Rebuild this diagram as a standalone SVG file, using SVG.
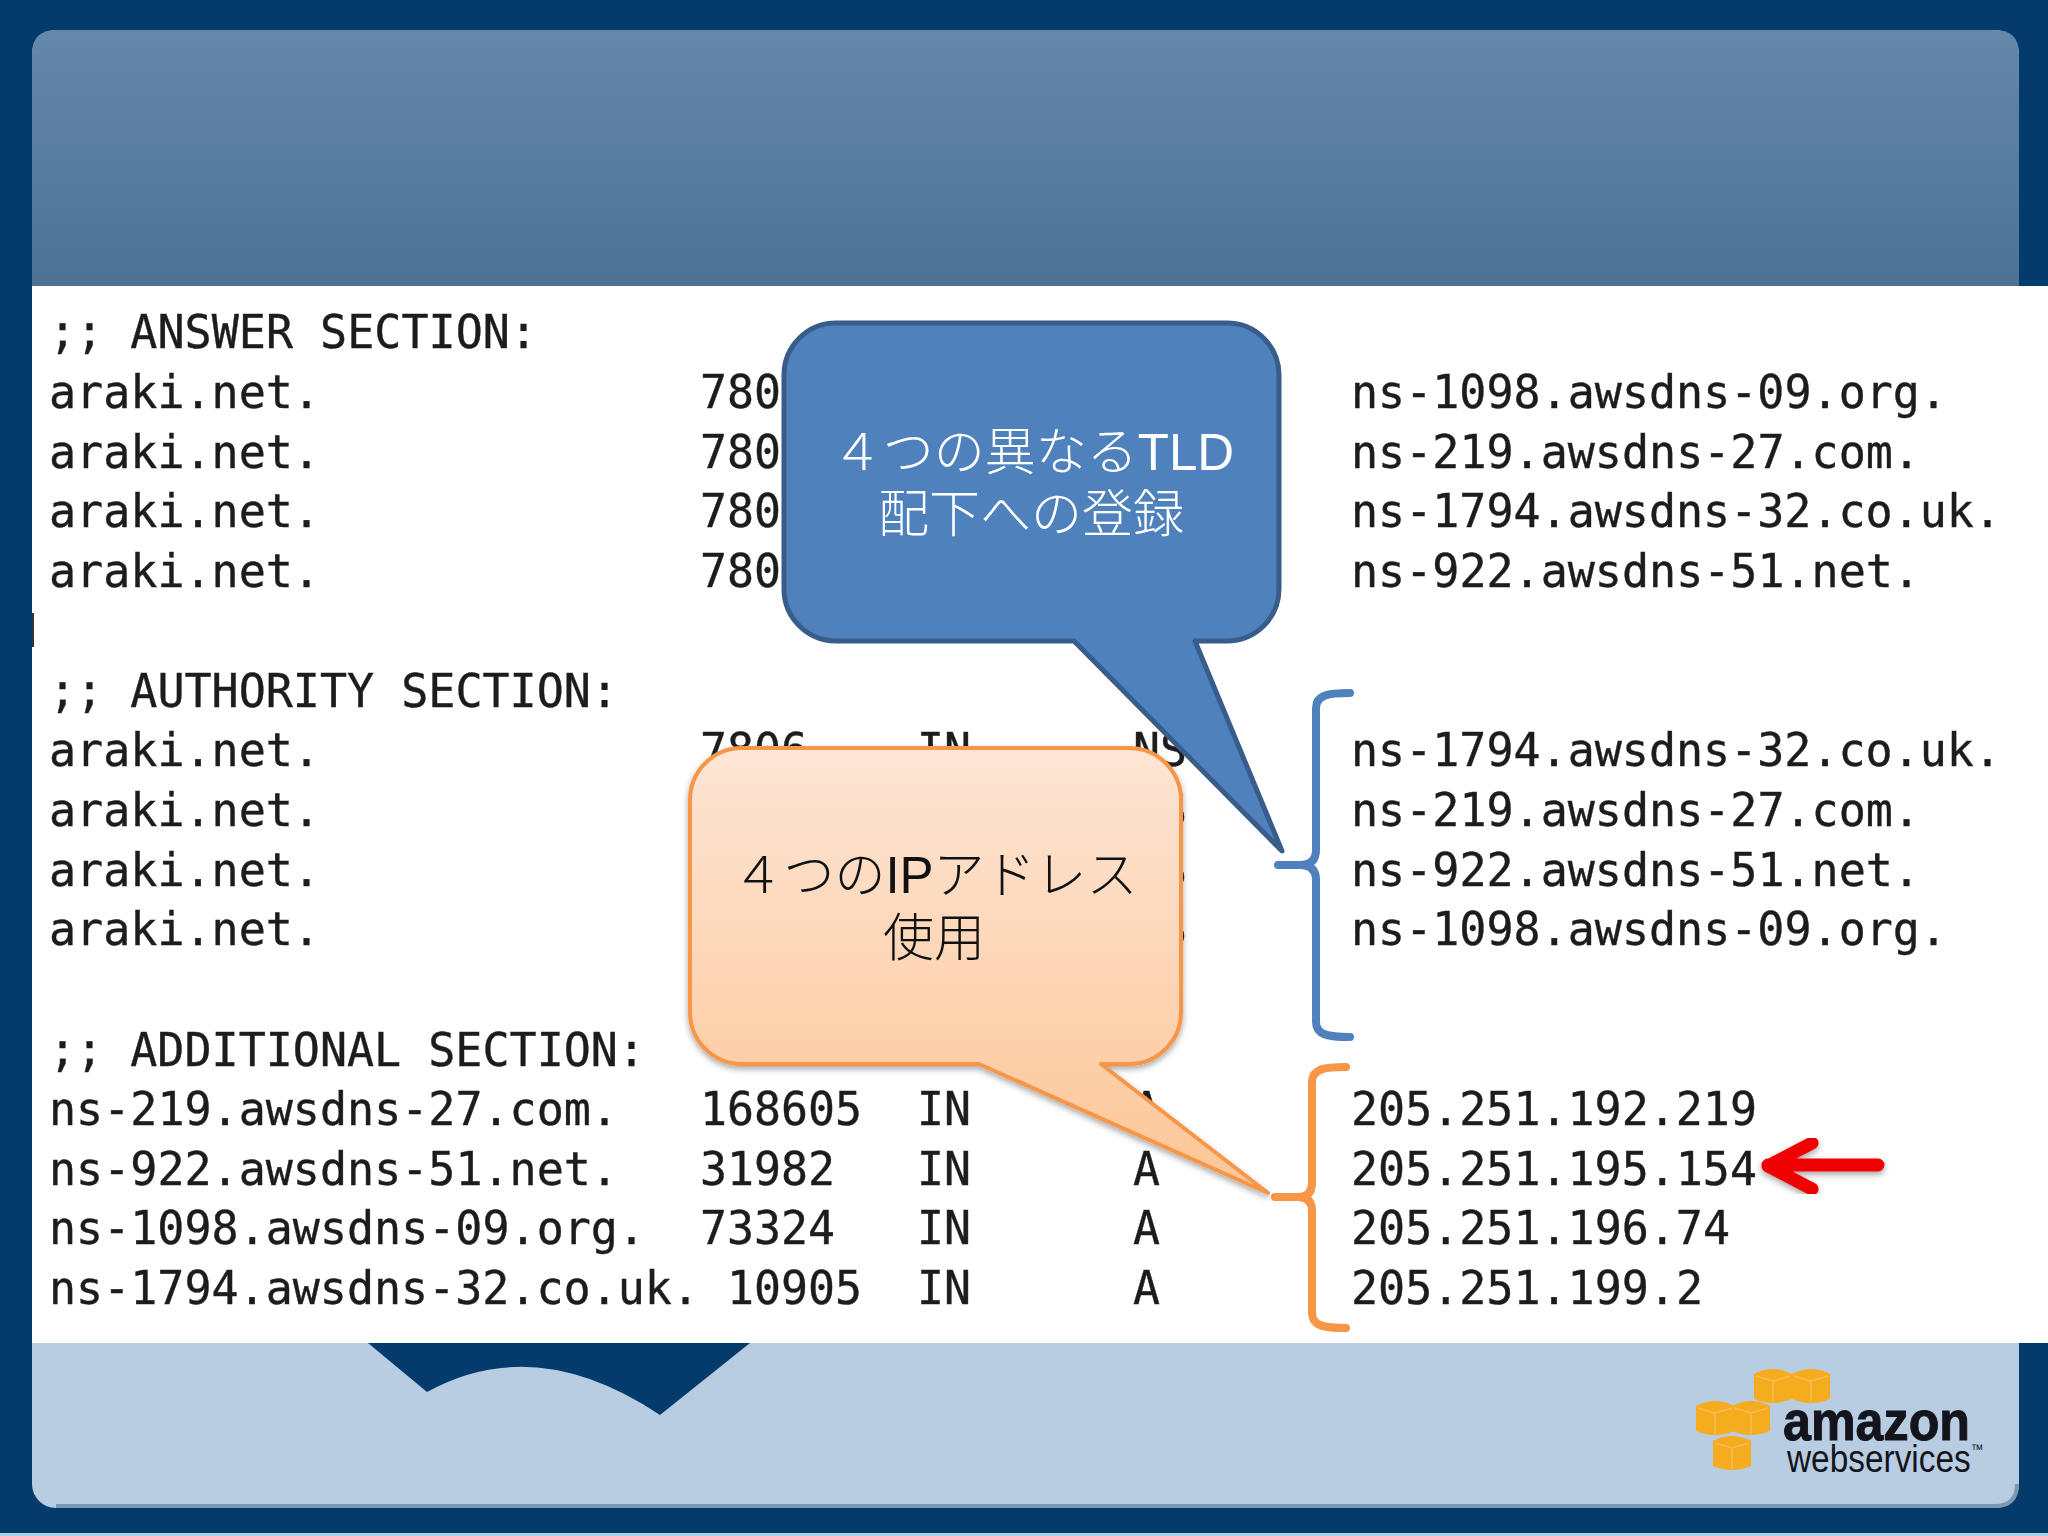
<svg xmlns="http://www.w3.org/2000/svg" width="2048" height="1536" viewBox="0 0 2048 1536">
<style>
.m{font-family:"DejaVu Sans Mono","Liberation Mono",monospace;font-size:47px;fill:#1c1c1c;stroke:#1c1c1c;stroke-width:.4}
.c{font-family:"Liberation Sans","Noto Sans CJK JP",sans-serif;font-size:51px;text-anchor:middle;font-weight:300}
.b{fill:none;stroke-width:8;stroke-linecap:round;stroke-linejoin:round}
</style>
<defs>
<linearGradient id="top" x1="0" y1="0" x2="0" y2="1"><stop offset="0" stop-color="#6688a8"/><stop offset="1" stop-color="#4c7296"/></linearGradient>
<linearGradient id="org" x1="0" y1="0" x2="0" y2="1"><stop offset="0" stop-color="#fde5d5"/><stop offset="1" stop-color="#fcc696"/></linearGradient>
<filter id="sh" x="-10%" y="-10%" width="120%" height="120%"><feDropShadow dx="0" dy="3" stdDeviation="3" flood-color="#000" flood-opacity=".35"/></filter>
<filter id="soft" x="0" y="0" width="100%" height="100%"><feGaussianBlur stdDeviation=".6"/></filter>
<g id="cube"><path d="M0 5Q19 -5 38 5V30Q19 38 0 30Z" fill="#f6ac1f"/><path d="M2 7L19 12L36 7M19 12V33" fill="none" stroke="#f9bd55" stroke-width="1.5"/></g>
</defs>
<rect id="page" width="2048" height="1536" fill="#033b6c"/>
<rect x="0" y="1533" width="2048" height="3" fill="#a9d3e4"/>
<g id="panel">
<rect x="32" y="30" width="1987" height="1478" rx="24" fill="#b8cde2"/>
<path d="M56 1506H1995Q2017 1506 2017 1484" fill="none" stroke="#7c98b2" stroke-width="4"/>
<path d="M32 286V54Q32 30 56 30H1995Q2019 30 2019 54V286Z" fill="url(#top)"/>
<path d="M368 1343H750L660 1415Q535 1332 427 1392Z" fill="#033b6c"/>
</g>
<rect x="32" y="286" width="2016" height="1057" fill="#fff"/>
<rect x="32" y="613" width="2" height="34" fill="#333"/>
<g id="listing" filter="url(#soft)">
<text class="m" x="49" y="348" textLength="488" lengthAdjust="spacingAndGlyphs">;; ANSWER SECTION:</text>
<text class="m" x="49" y="408" textLength="271" lengthAdjust="spacingAndGlyphs">araki.net.</text>
<text class="m" x="700" y="408" textLength="81" lengthAdjust="spacingAndGlyphs">780</text>
<text class="m" x="1351" y="408" textLength="596" lengthAdjust="spacingAndGlyphs">ns-1098.awsdns-09.org.</text>
<text class="m" x="49" y="468" textLength="271" lengthAdjust="spacingAndGlyphs">araki.net.</text>
<text class="m" x="700" y="468" textLength="81" lengthAdjust="spacingAndGlyphs">780</text>
<text class="m" x="1351" y="468" textLength="569" lengthAdjust="spacingAndGlyphs">ns-219.awsdns-27.com.</text>
<text class="m" x="49" y="527" textLength="271" lengthAdjust="spacingAndGlyphs">araki.net.</text>
<text class="m" x="700" y="527" textLength="81" lengthAdjust="spacingAndGlyphs">780</text>
<text class="m" x="1351" y="527" textLength="650" lengthAdjust="spacingAndGlyphs">ns-1794.awsdns-32.co.uk.</text>
<text class="m" x="49" y="587" textLength="271" lengthAdjust="spacingAndGlyphs">araki.net.</text>
<text class="m" x="700" y="587" textLength="81" lengthAdjust="spacingAndGlyphs">780</text>
<text class="m" x="1351" y="587" textLength="569" lengthAdjust="spacingAndGlyphs">ns-922.awsdns-51.net.</text>
<text class="m" x="49" y="707" textLength="569" lengthAdjust="spacingAndGlyphs">;; AUTHORITY SECTION:</text>
<text class="m" x="49" y="766" textLength="271" lengthAdjust="spacingAndGlyphs">araki.net.</text>
<text class="m" x="700" y="766" textLength="108" lengthAdjust="spacingAndGlyphs">7806</text>
<text class="m" x="917" y="766" textLength="54" lengthAdjust="spacingAndGlyphs">IN</text>
<text class="m" x="1133" y="766" textLength="54" lengthAdjust="spacingAndGlyphs">NS</text>
<text class="m" x="1351" y="766" textLength="650" lengthAdjust="spacingAndGlyphs">ns-1794.awsdns-32.co.uk.</text>
<text class="m" x="49" y="826" textLength="271" lengthAdjust="spacingAndGlyphs">araki.net.</text>
<text class="m" x="1160" y="826" textLength="27" lengthAdjust="spacingAndGlyphs">S</text>
<text class="m" x="1351" y="826" textLength="569" lengthAdjust="spacingAndGlyphs">ns-219.awsdns-27.com.</text>
<text class="m" x="49" y="886" textLength="271" lengthAdjust="spacingAndGlyphs">araki.net.</text>
<text class="m" x="1160" y="886" textLength="27" lengthAdjust="spacingAndGlyphs">S</text>
<text class="m" x="1351" y="886" textLength="569" lengthAdjust="spacingAndGlyphs">ns-922.awsdns-51.net.</text>
<text class="m" x="49" y="945" textLength="271" lengthAdjust="spacingAndGlyphs">araki.net.</text>
<text class="m" x="1160" y="945" textLength="27" lengthAdjust="spacingAndGlyphs">S</text>
<text class="m" x="1351" y="945" textLength="596" lengthAdjust="spacingAndGlyphs">ns-1098.awsdns-09.org.</text>
<text class="m" x="49" y="1066" textLength="596" lengthAdjust="spacingAndGlyphs">;; ADDITIONAL SECTION:</text>
<text class="m" x="49" y="1125" textLength="569" lengthAdjust="spacingAndGlyphs">ns-219.awsdns-27.com.</text>
<text class="m" x="700" y="1125" textLength="162" lengthAdjust="spacingAndGlyphs">168605</text>
<text class="m" x="917" y="1125" textLength="54" lengthAdjust="spacingAndGlyphs">IN</text>
<text class="m" x="1133" y="1125" textLength="27" lengthAdjust="spacingAndGlyphs">A</text>
<text class="m" x="1351" y="1125" textLength="406" lengthAdjust="spacingAndGlyphs">205.251.192.219</text>
<text class="m" x="49" y="1185" textLength="569" lengthAdjust="spacingAndGlyphs">ns-922.awsdns-51.net.</text>
<text class="m" x="700" y="1185" textLength="135" lengthAdjust="spacingAndGlyphs">31982</text>
<text class="m" x="917" y="1185" textLength="54" lengthAdjust="spacingAndGlyphs">IN</text>
<text class="m" x="1133" y="1185" textLength="27" lengthAdjust="spacingAndGlyphs">A</text>
<text class="m" x="1351" y="1185" textLength="406" lengthAdjust="spacingAndGlyphs">205.251.195.154</text>
<text class="m" x="49" y="1244" textLength="596" lengthAdjust="spacingAndGlyphs">ns-1098.awsdns-09.org.</text>
<text class="m" x="700" y="1244" textLength="135" lengthAdjust="spacingAndGlyphs">73324</text>
<text class="m" x="917" y="1244" textLength="54" lengthAdjust="spacingAndGlyphs">IN</text>
<text class="m" x="1133" y="1244" textLength="27" lengthAdjust="spacingAndGlyphs">A</text>
<text class="m" x="1351" y="1244" textLength="379" lengthAdjust="spacingAndGlyphs">205.251.196.74</text>
<text class="m" x="49" y="1304" textLength="650" lengthAdjust="spacingAndGlyphs">ns-1794.awsdns-32.co.uk.</text>
<text class="m" x="727" y="1304" textLength="135" lengthAdjust="spacingAndGlyphs">10905</text>
<text class="m" x="917" y="1304" textLength="54" lengthAdjust="spacingAndGlyphs">IN</text>
<text class="m" x="1133" y="1304" textLength="27" lengthAdjust="spacingAndGlyphs">A</text>
<text class="m" x="1351" y="1304" textLength="352" lengthAdjust="spacingAndGlyphs">205.251.199.2</text>
</g>
<g id="connectors">
<path class="b" stroke="#4f81bd" d="M1350 693C1328 693 1316 695 1316 708V850Q1316 865 1300 865H1278H1300Q1316 865 1316 880V1022C1316 1035 1328 1037 1350 1037"/>
<path class="b" stroke="#f79646" d="M1346 1067C1324 1067 1312 1069 1312 1082V1183Q1312 1197 1298 1197H1275H1298Q1312 1197 1312 1211V1313C1312 1326 1324 1328 1346 1328"/>
<path id="red-arrow" d="M1878 1165H1768M1812 1143L1768 1166L1812 1189" fill="none" stroke="#f00000" stroke-width="13" stroke-linecap="round" stroke-linejoin="round" filter="url(#sh)"/>
</g>
<g id="callout-tld">
<path d="M836 323H1227A52 52 0 0 1 1279 375V589A52 52 0 0 1 1227 641H1195L1282 851L1074 641H836A52 52 0 0 1 784 589V375A52 52 0 0 1 836 323Z" fill="#4f81bd" stroke="#385d8a" stroke-width="5" stroke-linejoin="round"/>
<text class="c" x="1033" y="470" fill="#fff">４つの異なるTLD</text>
<text class="c" x="1031" y="532" fill="#fff">配下への登録</text>
</g>
<g id="callout-ip">
<path d="M742 748H1129A52 52 0 0 1 1181 800V1011A52 52 0 0 1 1129 1064H1101L1268 1193L979 1064H742A52 52 0 0 1 690 1011V800A52 52 0 0 1 742 748Z" fill="url(#org)" stroke="#f79646" stroke-width="4" stroke-linejoin="round" filter="url(#sh)"/>
<text class="c" x="935" y="893" fill="#111">４つのIPアドレス</text>
<text class="c" x="934" y="956" fill="#111">使用</text>
</g>
<g id="aws-logo">
<use href="#cube" x="1754" y="1369"/><use href="#cube" x="1792" y="1369"/>
<use href="#cube" x="1696" y="1401"/><use href="#cube" x="1732" y="1401"/>
<use href="#cube" x="1713" y="1436"/>
<text x="1783" y="1440" textLength="187" lengthAdjust="spacingAndGlyphs" font-family="Liberation Sans, sans-serif" font-weight="700" font-size="56" fill="#14141c" stroke="#14141c" stroke-width="1">amazon</text>
<text x="1787" y="1472" textLength="196" lengthAdjust="spacingAndGlyphs" font-family="Liberation Sans, sans-serif" font-size="38" fill="#14141c">webservices<tspan font-size="14" dy="-18">™</tspan></text>
</g>
</svg>
